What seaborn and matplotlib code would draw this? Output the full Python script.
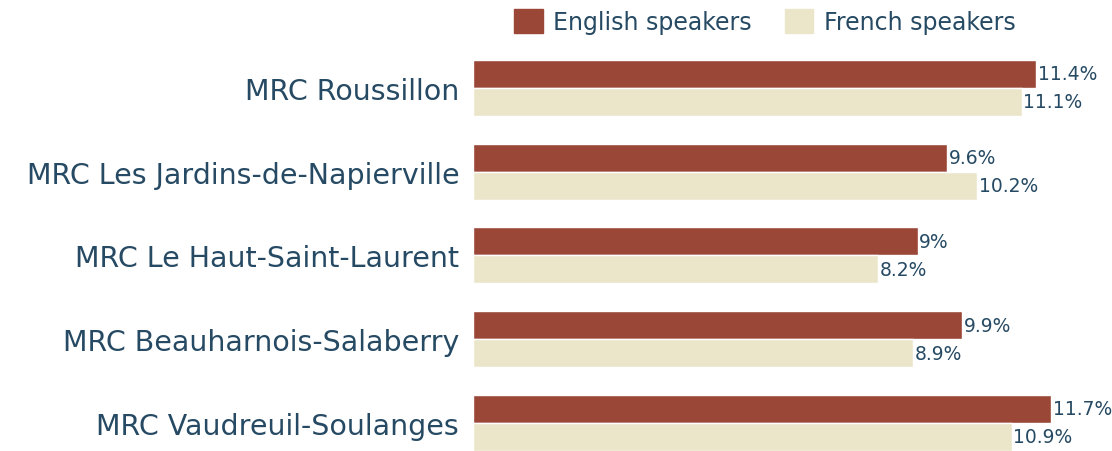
import numpy as np
import pandas as pd
import matplotlib
matplotlib.use("Agg")
import matplotlib.pyplot as plt
import seaborn as sns

regions = ["MRC Roussillon", "MRC Les Jardins-de-Napierville", "MRC Le Haut-Saint-Laurent",
           "MRC Beauharnois-Salaberry", "MRC Vaudreuil-Soulanges"]
english = [11.4, 9.6, 9.0, 9.9, 11.7]
french = [11.1, 10.2, 8.2, 8.9, 10.9]
groups = ["English speakers", "French speakers"]

colors = ["#9a4737", "#ebe6ca"]
text_color = "#264a63"

df = pd.DataFrame({
    "region": regions * 2,
    "value": english + french,
    "group": [groups[0]] * len(regions) + [groups[1]] * len(regions),
})

sns.set_style("white")
plt.rcParams["font.family"] = ["DejaVu Sans"]

fig = plt.figure(figsize=(11.12, 4.52), dpi=100)
ax = fig.add_axes([0.4254, 0.0, 0.568, 0.896])

sns.barplot(data=df, y="region", x="value", hue="group", order=regions,
            hue_order=groups, palette=colors, width=0.67, orient="h",
            saturation=1, ax=ax, legend=False)

for cont in ax.containers:
    ax.bar_label(cont, labels=[f"{v:g}%" for v in cont.datavalues],
                 padding=1, fontsize=13.5, color=text_color)

ax.set_xlim(0, 12.78)
ax.set_ylim(4.335, -0.5)
ax.set_xlabel("")
ax.set_ylabel("")
ax.set_xticks([])
ax.tick_params(axis="y", length=0, pad=10, labelsize=20.5, labelcolor=text_color)
sns.despine(ax=ax, left=True, bottom=True)

handles = [plt.Rectangle((0, 0), 1, 1, color=c) for c in colors]
fig.legend(handles, groups, loc="upper center", bbox_to_anchor=(0.688, 1.025),
           ncol=2, frameon=False, fontsize=17, labelcolor=text_color,
           handlelength=1.2, handleheight=1.2, columnspacing=1.4, handletextpad=0.45)

fig.savefig("out.png", dpi=100)
